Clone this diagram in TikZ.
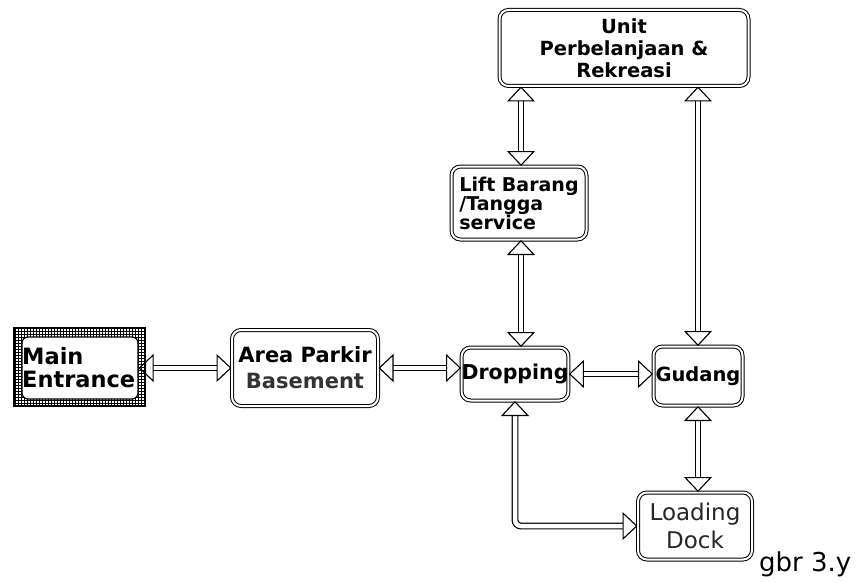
\documentclass[tikz,border=0pt]{standalone}
\usepackage{fontspec}
\setmainfont{DejaVu Sans}
\usetikzlibrary{arrows.meta,patterns,positioning}
\begin{document}
\begin{tikzpicture}[x=1pt,y=-1pt,
  box/.style={draw, double, double distance=2pt, line width=1pt, rounded corners=9pt, fill=white, align=center, inner sep=0pt, font=\bfseries\fontsize{20}{21}\selectfont},
  dtip/.tip={Triangle[open,length=15pt,width=28pt,line width=1.1pt]},
  darr/.style={double=white, double distance=4.5pt, line width=1.2pt, dtip-dtip},
]
\useasboundingbox (0,0) rectangle (859,583);
% Main Entrance frame
\path[draw, line width=1.4pt, pattern=grid] (14,328) rectangle (145,406);
\node[draw, line width=1.2pt, rounded corners=6pt, fill=white, minimum width=116pt, minimum height=62pt, inner sep=0pt] (mainbox) at (80,368) {};
\node[anchor=west, align=left, font=\bfseries\fontsize{22.5}{23}\selectfont, inner sep=0pt] (main) at (22,368) {Main\\Entrance};
\node[box, minimum width=146pt, minimum height=76pt, font=\bfseries\fontsize{21}{26}\selectfont] (area) at (305,368) {Area Parkir\\\color{black!80}Basement};
\node[box, minimum width=101pt, minimum height=53pt, font=\bfseries\fontsize{20.5}{21}\selectfont] (drop) at (515,374) {Dropping};
\node[box, minimum width=89pt, minimum height=59pt, font=\bfseries\fontsize{19.5}{21}\selectfont] (gud) at (698,376) {Gudang};
\node[box, minimum width=135pt, minimum height=73pt, align=left, font=\bfseries\fontsize{19}{19}\selectfont] (lift) at (519,203) {Lift Barang\\/Tangga\\service};
\node[box, minimum width=249pt, minimum height=76pt, font=\bfseries\fontsize{19.5}{22}\selectfont] (unit) at (624,48) {Unit\\Perbelanjaan \&\\Rekreasi};
\node[box, minimum width=114pt, minimum height=67pt, font=\fontsize{23}{28}\selectfont, text=black!85] (load) at (695,526) {Loading\\Dock};
\node[anchor=south west, font=\fontsize{26}{28}\selectfont, inner sep=0pt] (cap) at (759,577) {gbr 3.y};
% connectors
\draw[darr] (mainbox.east) -- (area.west);
\draw[darr] (area.east) -- (area.east -| drop.west);
\draw[darr] (drop.east) -- (drop.east -| gud.west);
\draw[darr] ([xshift=2pt]lift.north) -- ([xshift=2pt]lift.north |- unit.south);
\draw[darr] ([xshift=2pt]lift.south) -- ([xshift=2pt]lift.south |- drop.north);
\draw[darr] (gud.north) -- (gud.north |- unit.south);
\draw[darr] (gud.south) -- (gud.south |- load.north);
\draw[darr, rounded corners=6pt] (drop.south) |- (load.west);
\end{tikzpicture}
\end{document}
